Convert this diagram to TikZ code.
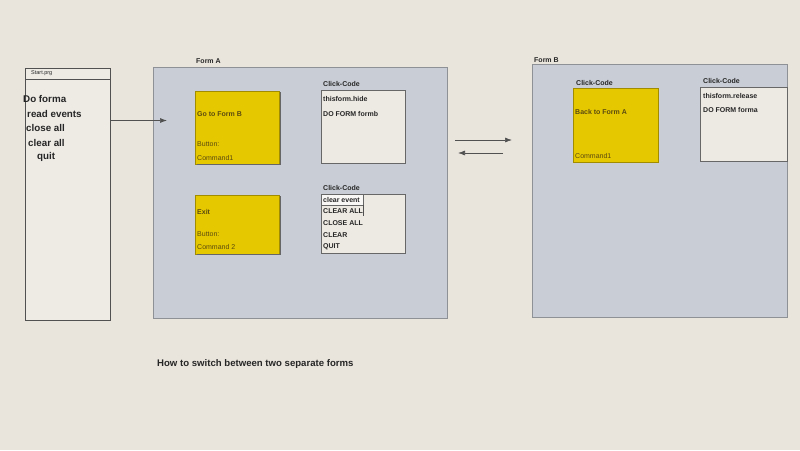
\documentclass[tikz,border=0pt]{standalone}
\usepackage{fontspec}
\setmainfont{Liberation Sans}
\usetikzlibrary{arrows.meta}
\definecolor{bg}{HTML}{E9E4DC}
\definecolor{formfill}{HTML}{C9CED6}
\definecolor{formline}{HTML}{8E9196}
\definecolor{codefill}{HTML}{EDE9E3}
\definecolor{yel}{HTML}{E6C800}
\definecolor{yeltext}{HTML}{5A4A10}
\definecolor{ink}{HTML}{262626}
\begin{document}
\begin{tikzpicture}[x=1pt,y=-1pt,
  frm/.style={draw=formline,line width=0.8pt,fill=formfill,anchor=north west,inner sep=0pt},
  ybox/.style={fill=yel,draw=yel!70!black,line width=0.4pt,anchor=north west,inner sep=0pt},
  cbox/.style={draw=ink!70,line width=0.7pt,fill=codefill,anchor=north west,inner sep=0pt},
  lbl/.style={anchor=west,inner sep=0pt,font=\fontsize{7}{8}\selectfont\bfseries,text=ink},
  ytxt/.style={anchor=west,inner sep=0pt,font=\fontsize{7}{8}\selectfont,text=yeltext},
  ytxtb/.style={anchor=west,inner sep=0pt,font=\fontsize{7}{8}\selectfont\bfseries,text=yeltext},
  ctxt/.style={anchor=west,inner sep=0pt,font=\fontsize{7}{8}\selectfont\bfseries,text=ink},
  stxt/.style={anchor=west,inner sep=0pt,font=\fontsize{9.8}{11}\selectfont\bfseries,text=ink},
  arr/.style={draw=ink!80,line width=0.7pt,-{Latex[length=7pt,width=5pt]}}]
\fill[bg] (0,0) rectangle (800,450);
\useasboundingbox (0,0) rectangle (800,450);

% Start.prg
\node[draw=ink!80,line width=1pt,fill=bg!75!white,anchor=north west,inner sep=0pt,
  minimum width=85pt,minimum height=252pt] (start) at (25,68) {};
\coordinate (shl) at (25,79);
\coordinate (shr) at (110,79);
\draw[ink!80,line width=0.6pt] (shl) -- (shr);
\node[anchor=west,inner sep=0pt,font=\fontsize{5.5}{6}\selectfont,text=ink] (sttl) at (31,73.5) {Start.prg};
\node[stxt] (s1) at (23,99) {Do forma};
\node[stxt] (s2) at (27,113.5) {read events};
\node[stxt] (s3) at (26,128) {close all};
\node[stxt] (s4) at (28,142.5) {clear all};
\node[stxt] (s5) at (37,157) {quit};

% Form A
\node[frm,minimum width=294pt,minimum height=251pt] (formA) at (153,67) {};
\node[lbl] (formAl) at (196,61) {Form A};
\node[ybox,minimum width=84pt,minimum height=73pt] (y1) at (195,91) {};
\draw[black!60,line width=0.8pt] (y1.north east) ++(0.6,1) -- ++(0,72.5) -- ++(-83.5,0);
\node[ytxtb] (y1a) at (197,114.5) {Go to Form B};
\node[ytxt] (y1b) at (197,144) {Button:};
\node[ytxt] (y1c) at (197,158) {Command1};
\node[lbl] (c1l) at (323,84) {Click-Code};
\node[cbox,minimum width=84pt,minimum height=73pt] (c1) at (321,90) {};
\node[ctxt] (c1a) at (323,99) {thisform.hide};
\node[ctxt] (c1b) at (323,114) {DO FORM formb};

\node[ybox,minimum width=84pt,minimum height=59pt] (y2) at (195,195) {};
\draw[black!60,line width=0.8pt] (y2.north east) ++(0.6,1) -- ++(0,58.5) -- ++(-83.5,0);
\node[ytxtb] (y2a) at (197,212) {Exit};
\node[ytxt] (y2b) at (197,234) {Button:};
\node[ytxt] (y2c) at (197,247) {Command 2};
\node[lbl] (c2l) at (323,188) {Click-Code};
\node[cbox,minimum width=84pt,minimum height=59pt] (c2) at (321,194) {};
\node[draw=ink!70,line width=0.5pt,fill=white!70!codefill,anchor=north west,inner sep=0pt,
  minimum width=42pt,minimum height=11pt] (c2sel) at (321,194) {};
\node[ctxt] (c2a) at (323,199.5) {clear event};
\node[ctxt] (c2b) at (323,211.5) {CLEAR ALL};
\node[ctxt] (c2c) at (323,223) {CLOSE ALL};
\node[ctxt] (c2d) at (323,235) {CLEAR};
\node[ctxt] (c2e) at (323,246.5) {QUIT};
\coordinate (cur1) at (363,205);
\coordinate (cur2) at (363,216);
\draw[ink!80,line width=0.5pt] (cur1) -- (cur2);

% arrows
\coordinate (a0s) at (110,120.5);
\coordinate (a0e) at (167,120.5);
\draw[arr] (a0s) -- (a0e);
\coordinate (a1s) at (455,140);
\coordinate (a1e) at (512,140);
\draw[arr] (a1s) -- (a1e);
\coordinate (a2s) at (503,153);
\coordinate (a2e) at (458,153);
\draw[arr] (a2s) -- (a2e);

% Form B
\node[frm,minimum width=255pt,minimum height=253pt] (formB) at (532,64) {};
\node[lbl] (formBl) at (534,60) {Form B};
\node[ybox,minimum width=85pt,minimum height=74pt] (y3) at (573,88) {};
\node[lbl] (y3l) at (576,83) {Click-Code};
\node[ytxtb] (y3a) at (575,112) {Back to Form A};
\node[ytxt] (y3c) at (575,156) {Command1};
\node[lbl] (c3l) at (703,81) {Click-Code};
\node[cbox,minimum width=87pt,minimum height=74pt] (c3) at (700,87) {};
\node[ctxt] (c3a) at (703,96) {thisform.release};
\node[ctxt] (c3b) at (703,110) {DO FORM forma};

% caption
\node[anchor=west,inner sep=0pt,font=\fontsize{9.6}{11}\selectfont\bfseries,text=ink] (cap) at (157,364) {How to switch between two separate forms};
\end{tikzpicture}
\end{document}
